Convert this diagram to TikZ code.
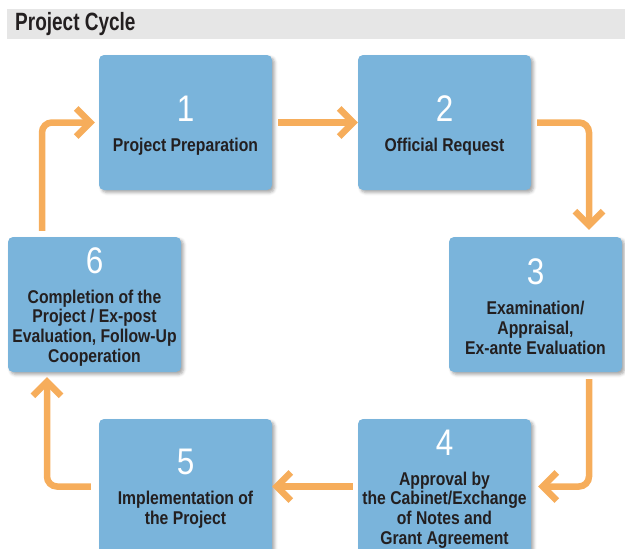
\documentclass[tikz,border=0pt]{standalone}
\usepackage{fontspec}
\newfontfamily\condfont{Liberation Sans}[FakeStretch=0.85]
\newfontfamily\titlefont{Liberation Sans}[FakeStretch=0.76]
\usetikzlibrary{arrows.meta,positioning,shadows.blur}
\definecolor{stepblue}{RGB}{122,180,219}
\definecolor{steporange}{RGB}{246,173,91}
\definecolor{steptext}{RGB}{35,31,32}
\definecolor{bargray}{RGB}{230,230,230}
\tikzset{
  stepbox/.style={fill=stepblue, rounded corners=5pt, minimum width=173pt,
    minimum height=135pt, inner sep=0pt,
    blur shadow={shadow xshift=2.5pt, shadow yshift=-2.5pt, shadow blur radius=3pt, shadow opacity=35}},
  steplabel/.style={font=\condfont\bfseries\fontsize{18.5}{19.7}\selectfont,
    text=steptext, align=center, inner sep=0pt},
  stepnum/.style={font=\condfont\fontsize{37}{37}\selectfont, text=white, inner sep=0pt},
  flow/.style={draw=steporange, line width=6.5pt, rounded corners=10pt,
    -{Straight Barb[length=14pt, width=28pt, line cap=butt, line join=miter]}},
}
\begin{document}
\begin{tikzpicture}[x=1pt, y=-1pt]
  \useasboundingbox (0,0) rectangle (625,549);
  % title bar
  \fill[bargray] (7,9) rectangle (625,39);
  \node[anchor=west, inner sep=0pt, text=steptext,
    font=\titlefont\bfseries\fontsize{25}{25}\selectfont] (title) at (15,24.5) {Project Cycle};
  % boxes
  \node[stepbox] (b1) at (185.5,122.5) {};
  \node[stepbox] (b2) at (444.5,122.5) {};
  \node[stepbox] (b3) at (535.5,304.5) {};
  \node[stepbox] (b4) at (444.5,486.5) {};
  \node[stepbox] (b5) at (185.5,486.5) {};
  \node[stepbox] (b6) at (94.5,304.5) {};
  % labels
  \node[steplabel] (l1) at ([yshift=-24.5pt]b1.center) {Project Preparation};
  \node[steplabel] (l2) at ([yshift=-24.5pt]b2.center) {Official Request};
  \node[steplabel] (l3) at ([yshift=-23.5pt]b3.center) {Examination/\\Appraisal,\\Ex-ante Evaluation};
  \node[steplabel] (l4) at ([yshift=-23.5pt]b4.center) {Approval by\\the Cabinet/Exchange\\of Notes and\\Grant Agreement};
  \node[steplabel] (l5) at ([yshift=-23.5pt]b5.center) {Implementation of\\the Project};
  \node[steplabel] (l6) at ([yshift=-23.5pt]b6.center) {Completion of the\\Project / Ex-post\\Evaluation, Follow-Up\\Cooperation};
  % numbers
  \foreach \i in {1,...,6}
    \node[stepnum, above=16pt of l\i] (n\i) {\i};
  % cycle arrows
  \draw[flow] ([xshift=6pt]b1.east) -- (b2.west);
  \draw[flow] ([xshift=6pt]b2.east) -| ([xshift=53.5pt,yshift=7pt]b3.north);
  \draw[flow] ([xshift=53.5pt,yshift=-7pt]b3.south) |- ([xshift=7pt]b4.east);
  \draw[flow] ([xshift=-5pt]b4.west) -- (b5.east);
  \draw[flow] ([xshift=-8pt]b5.west) -| ([xshift=-47.5pt,yshift=-5pt]b6.south);
  \draw[flow] ([xshift=-52.5pt,yshift=6pt]b6.north) |- ([xshift=-4pt]b1.west);
\end{tikzpicture}
\end{document}
